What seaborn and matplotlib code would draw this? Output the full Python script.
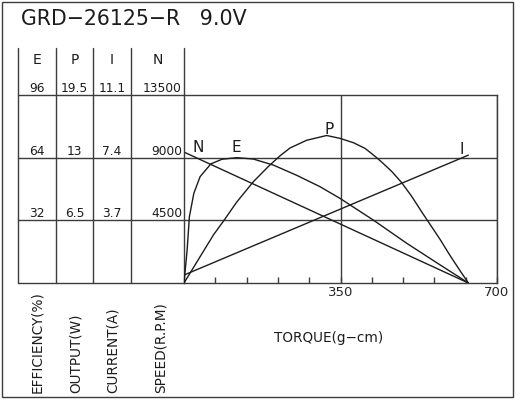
import seaborn as sns
import matplotlib.pyplot as plt
from matplotlib.lines import Line2D
from matplotlib.patches import Rectangle

# values (torque in g-cm)
torque_p = [0, 66, 88, 118, 155, 189, 215, 237, 274, 319, 349, 379, 405, 427,
            442, 465, 487, 509, 532, 550, 573, 595, 617, 636]
output_w = [0, 5.0, 6.4, 8.4, 10.5, 12.1, 13.2, 14.0, 14.8, 15.3, 15.0, 14.55, 13.96, 13.15,
            12.55, 11.55, 10.4, 9.0, 7.35, 6.1, 4.5, 2.85, 1.3, 0]

torque_e = [0, 7, 12, 22, 36, 60, 85, 118, 155, 200, 252, 304, 349, 423, 498, 573, 636]
efficiency = [0, 16.8, 33.8, 45.8, 54.3, 60.8, 63.2, 64.0, 63.3, 60.2, 55.0, 49.2, 43.2,
              32.2, 20.3, 9.2, 0]

torque_line = [0, 636]
speed_rpm = [9400, 0]
current_a = [0.47, 7.55]

# scale table
col_names = ["E", "P", "I", "N"]
e_scale = ["32", "64", "96"]
p_scale = ["6.5", "13", "19.5"]
i_scale = ["3.7", "7.4", "11.1"]
n_scale = [4500, 9000, 13500]
axis_names = ["EFFICIENCY(%)", "OUTPUT(W)", "CURRENT(A)", "SPEED(R.P.M)"]
x_labels = [350, 700]
x_minor = list(range(0, 701, 70))

title = "GRD\u221226125\u2212R   9.0V"
x_title = "TORQUE(g\u2212cm)"

W, H = 516, 400
INK = "#1c1c1c"
GRID = "#3c3c3c"


def fx(px):
    return px / W


def fy(py):
    return 1 - py / H


def main():
    sns.set_style("white")
    plt.rcParams["font.family"] = ["DejaVu Sans"]

    fig = plt.figure(figsize=(W / 100, H / 100), dpi=100)
    left, right, top, bottom = 184, 497, 95, 283
    ax = fig.add_axes([fx(left), fy(bottom), (right - left) / W, (bottom - top) / H])

    # speed on the main axis, others on hidden twins
    sns.lineplot(x=torque_line, y=speed_rpm, ax=ax, color=INK, lw=1.0)
    ax.set_ylim(0, n_scale[-1])
    ax.set_xlim(0, 700)

    for ys, xs, top_val in [(efficiency, torque_e, float(e_scale[-1])),
                            (output_w, torque_p, float(p_scale[-1])),
                            (current_a, torque_line, float(i_scale[-1]))]:
        t = ax.twinx()
        sns.lineplot(x=xs, y=ys, ax=t, color=INK, lw=1.0)
        t.set_ylim(0, top_val)
        t.set_axis_off()

    ax.set_yticks(n_scale[:-1])
    ax.set_yticklabels([])
    ax.set_xticks(x_labels)
    ax.set_xticklabels([str(v) for v in x_labels], fontsize=9.5)
    ax.set_xticks(x_minor, minor=True)
    ax.tick_params(axis="x", which="both", bottom=True, direction="in", length=4.3,
                   width=1.0, color=GRID, pad=2.5)
    ax.tick_params(axis="y", length=0)
    ax.grid(True, which="major", color=GRID, lw=1.0)
    for s in ax.spines.values():
        s.set_color(GRID)
        s.set_linewidth(1.0)
    ax.set_xlabel("")
    ax.set_ylabel("")

    # curve letters
    def to_data(px, py):
        return (px - left) / (right - left) * 700, (bottom - py) / (bottom - top) * n_scale[-1]

    for letter, (px, py) in zip(["N", "E", "P", "I"],
                                [(197.7, 147.5), (236, 147.5), (329.5, 129), (461.7, 149)]):
        tx, ty = to_data(px, py)
        ax.text(tx, ty, letter, ha="center", va="center", fontsize=11, color=INK)

    # scale table at left
    cols = [18, 56, 93, 131, 184]
    rows = [95, 158, 220]
    for c in cols[:-1]:
        fig.add_artist(Line2D([fx(c), fx(c)], [fy(48), fy(bottom)], color=GRID, lw=1.0))
    fig.add_artist(Line2D([fx(184), fx(184)], [fy(48), fy(top)], color=GRID, lw=1.0))
    for r in rows + [bottom]:
        fig.add_artist(Line2D([fx(cols[0]), fx(left)], [fy(r), fy(r)], color=GRID, lw=1.0))

    centers = [(cols[i] + cols[i + 1]) / 2 for i in range(4)]
    for cx, name in zip(centers, col_names):
        fig.text(fx(cx), fy(63.5), name, ha="center", va="baseline", fontsize=10, color=INK)

    row_lines = rows[::-1]  # 32 row sits on lowest line
    for k in range(3):
        ry = fy(row_lines[k] - 3)
        fig.text(fx(centers[0]), ry, e_scale[k], ha="center", va="baseline", fontsize=8.8, color=INK)
        fig.text(fx(centers[1]), ry, p_scale[k], ha="center", va="baseline", fontsize=8.8, color=INK)
        fig.text(fx(centers[2]), ry, i_scale[k], ha="center", va="baseline", fontsize=8.8, color=INK)
        fig.text(fx(182), ry, str(n_scale[k]), ha="right", va="baseline", fontsize=8.8, color=INK)

    for cx, name in zip([37, 76, 113, 161], axis_names):
        fig.text(fx(cx), fy(393), name, rotation=90, ha="center", va="bottom",
                 fontsize=9.8, color=INK)

    fig.text(fx(329), fy(342), x_title, ha="center", va="baseline", fontsize=9.8, color=INK)
    fig.text(fx(21), fy(25), title, ha="left", va="baseline", fontsize=14.8, color=INK)

    fig.add_artist(Rectangle((fx(2), fy(397)), fx(511), 395 / H, fill=False,
                             edgecolor=GRID, lw=1.0))

    fig.savefig("out.png", dpi=100)


if __name__ == "__main__":
    main()
